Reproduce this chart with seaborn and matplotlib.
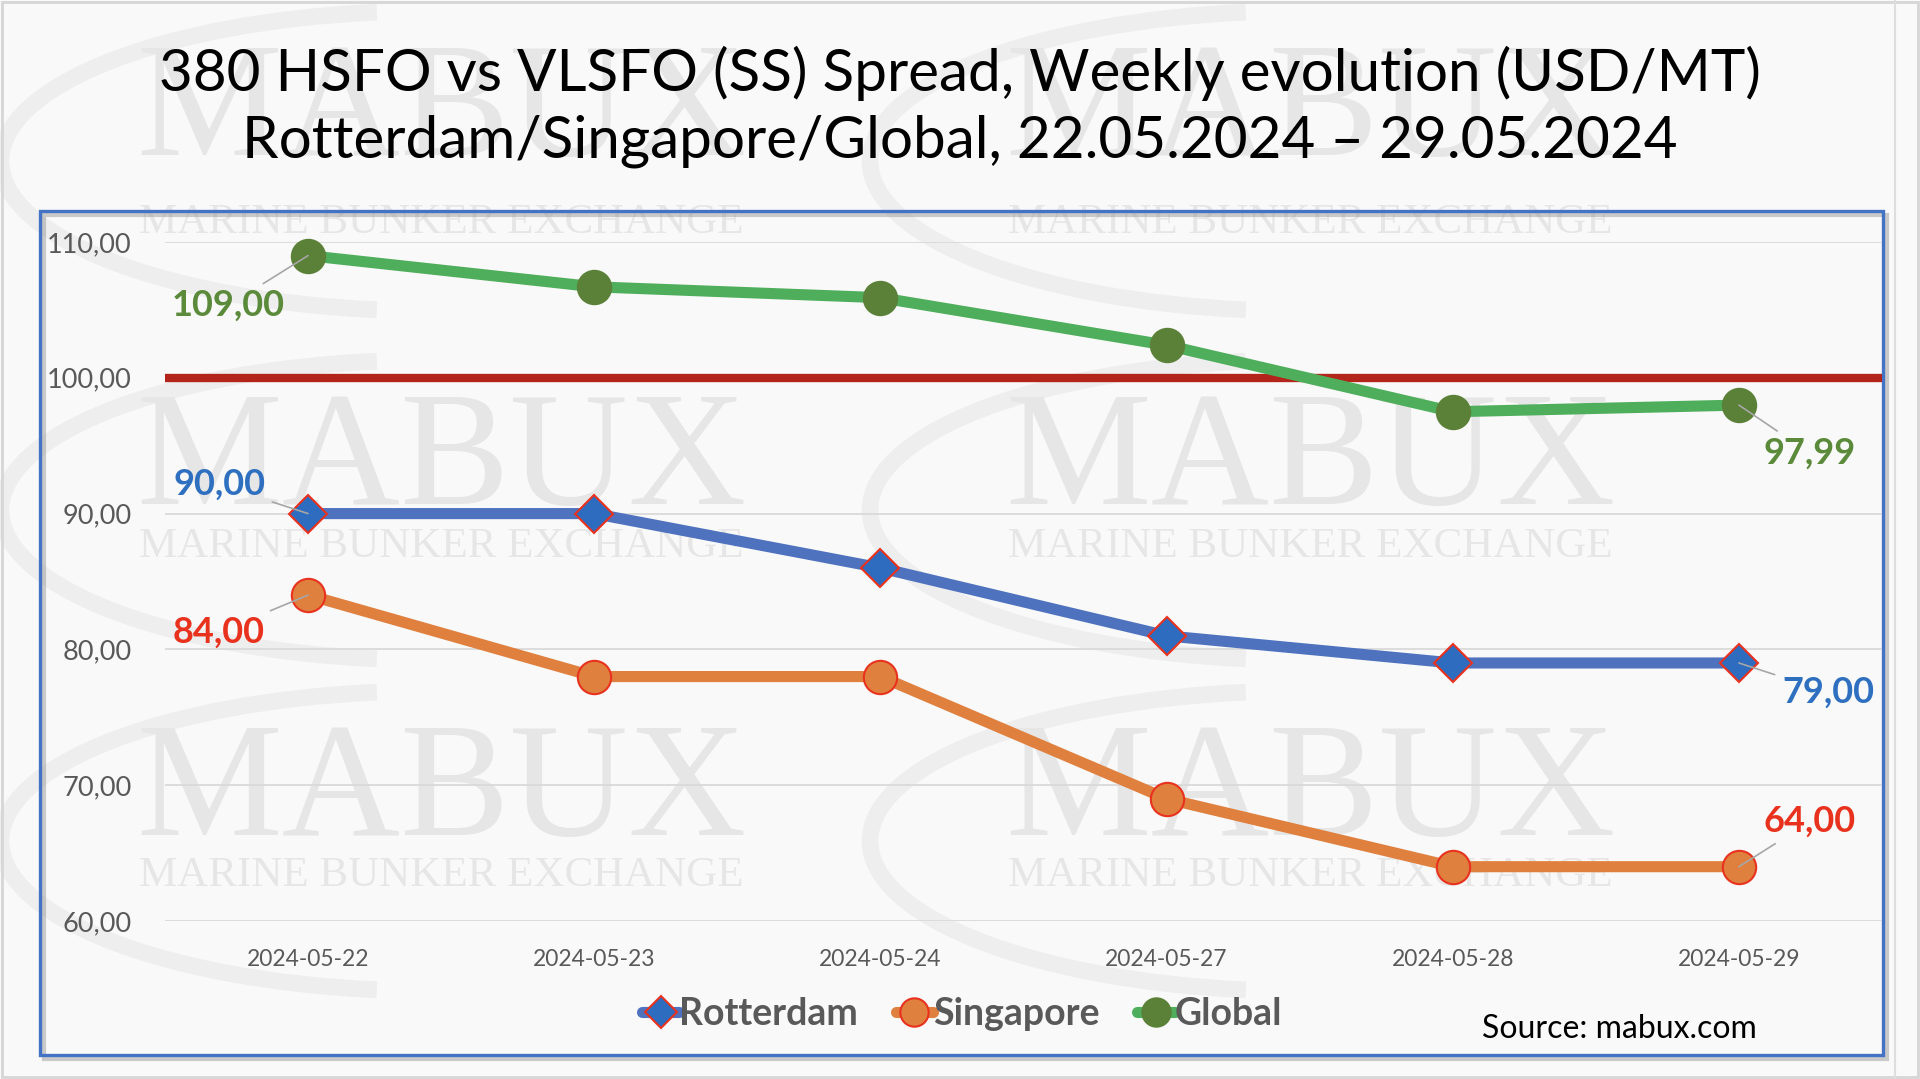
import matplotlib
matplotlib.use("Agg")
import numpy as np
import pandas as pd
import matplotlib.pyplot as plt
from matplotlib.lines import Line2D
from matplotlib.patches import Rectangle, Arc
import seaborn as sns

# data
dates = ["2024-05-22", "2024-05-23", "2024-05-24", "2024-05-27", "2024-05-28", "2024-05-29"]
rotterdam = [90.00, 90.00, 86.00, 81.00, 79.00, 79.00]
singapore = [84.00, 78.00, 78.00, 69.00, 64.00, 64.00]
global_avg = [109.00, 106.70, 105.90, 102.40, 97.50, 97.99]
threshold = 100.00
yticks = [60, 70, 80, 90, 100, 110]

title_1 = "380 HSFO vs VLSFO (SS) Spread, Weekly evolution (USD/MT)"
title_2 = "Rotterdam/Singapore/Global, 22.05.2024 \u2013 29.05.2024"
source_txt = "Source: mabux.com"

W, H = 1920, 1079
FONT = "Lato"

sns.set_theme(style="white")
plt.rcParams["font.family"] = [FONT, "DejaVu Sans"]

fig = plt.figure(figsize=(W / 100, H / 100), dpi=100, facecolor="#f9f9f9")

# background layer in pixel coordinates (watermark, frame, titles)
bg = fig.add_axes([0, 0, 1, 1], zorder=0)
bg.set_xlim(0, W)
bg.set_ylim(H, 0)
bg.axis("off")

wm = "#e6e6e6"
for cx in [441, 1310]:
    for cy_logo, cy_sub in [(116, 223), (465, 547), (796, 876)]:
        bg.text(cx, cy_logo, "MABUX", family="Liberation Serif", fontsize=118,
                color=wm, ha="center", va="center", zorder=1)
        bg.text(cx, cy_sub, "MARINE BUNKER EXCHANGE", family="Liberation Serif",
                fontsize=31, color=wm, ha="center", va="center", zorder=1)
        bg.add_patch(Arc((cx - 10, cy_logo + 45), 860, 300, theta1=110, theta2=250,
                         lw=12, color="#eeeeee", zorder=0.5))

# slide edges
bg.add_patch(Rectangle((2, 2), W - 4, H - 4, fill=False, ec="#d6d6d6", lw=2, zorder=2))
bg.plot([1895, 1895], [0, H], color="#dedede", lw=1.5, zorder=2)

# chart frame with shadow
bg.add_patch(Rectangle((44, 215), 1843, 844, fill=False, ec="#9a9a9a", lw=3, alpha=0.5, zorder=2))
bg.add_patch(Rectangle((40, 211), 1843, 844, fill=False, ec="#4472c4", lw=2.4, zorder=3))

bg.text(960, 73, title_1, fontsize=42, color="black", ha="center", va="center", zorder=4)
bg.text(960, 141, title_2, fontsize=42, color="black", ha="center", va="center", zorder=4)
bg.text(1619, 1029, source_txt, fontsize=23, color="black", ha="center", va="center", zorder=4)

# main plot area
ax = fig.add_axes([165 / W, 1 - 921 / H, (1882 - 165) / W, (921 - 242) / H], zorder=1)
ax.set_facecolor("none")

x = np.arange(len(dates))
df = pd.DataFrame({
    "x": np.tile(x, 3),
    "value": rotterdam + singapore + global_avg,
    "series": ["Rotterdam"] * 6 + ["Singapore"] * 6 + ["Global"] * 6,
})

styles = {
    "Rotterdam": dict(color="#4f72bf", marker="D", markersize=19, markerfacecolor="#2e6cc0",
                      markeredgecolor="#e8321e", markeredgewidth=1.5),
    "Singapore": dict(color="#e0803f", marker="o", markersize=24, markerfacecolor="#e0803f",
                      markeredgecolor="#e8321e", markeredgewidth=1.5),
    "Global": dict(color="#4fae5b", marker="o", markersize=24, markerfacecolor="#5b8139",
                   markeredgecolor="#5b8139", markeredgewidth=1.5),
}

ax.axhline(threshold, color="#b3241a", lw=6, zorder=2)

for name in ["Global", "Rotterdam", "Singapore"]:
    sub = df[df["series"] == name]
    sns.lineplot(data=sub, x="x", y="value", ax=ax, lw=8, zorder=3,
                 clip_on=False, legend=False, **styles[name])

ax.set_xlim(-0.5, len(dates) - 0.5)
ax.set_ylim(60, 110)
ax.set_yticks(yticks)
ax.set_yticklabels([f"{v:.2f}".replace(".", ",") for v in yticks])
ax.set_xticks(x)
ax.set_xticklabels(dates)
ax.tick_params(axis="y", length=0, pad=24, labelsize=19.5, labelcolor="#595959")
ax.tick_params(axis="x", length=0, pad=20, labelsize=16.5, labelcolor="#595959")
ax.set_xlabel("")
ax.set_ylabel("")
ax.grid(axis="y", color="#d9d9d9", lw=1.3, zorder=0)
ax.grid(axis="x", visible=False)
for sp in ax.spines.values():
    sp.set_visible(False)

# data labels at first and last points
labels = [
    (0, global_avg[0], (-80, -50), "#5b8a3a"),
    (5, global_avg[5], (71, -48), "#5b8a3a"),
    (0, rotterdam[0], (-89, 29), "#2e6fc0"),
    (5, rotterdam[5], (89, -29), "#2e6fc0"),
    (0, singapore[0], (-89, -37), "#e8321e"),
    (5, singapore[5], (71, 45), "#e8321e"),
]
for xi, v, off, col in labels:
    ax.annotate(f"{v:.2f}".replace(".", ","), xy=(xi, v), xytext=off,
                textcoords="offset pixels", ha="center", va="center",
                fontsize=26, fontweight="bold", color=col, zorder=5,
                arrowprops=dict(arrowstyle="-", color="#a6a6a6", lw=1.2,
                                shrinkA=3, shrinkB=0))

handles = []
for name in ["Rotterdam", "Singapore", "Global"]:
    st = dict(styles[name])
    st["markersize"] = st["markersize"] * 0.85
    handles.append(Line2D([], [], lw=8, solid_capstyle="round", **st))
leg = fig.legend(handles, ["Rotterdam", "Singapore", "Global"], loc="center",
                 bbox_to_anchor=(962 / W, 1 - 1014 / H), ncol=3, frameon=False,
                 handlelength=1.0, handletextpad=0.0, columnspacing=1.0,
                 prop=dict(family=FONT, size=27, weight="bold"))
for t in leg.get_texts():
    t.set_color("#595959")

fig.savefig("out.png", dpi=100, facecolor=fig.get_facecolor())
